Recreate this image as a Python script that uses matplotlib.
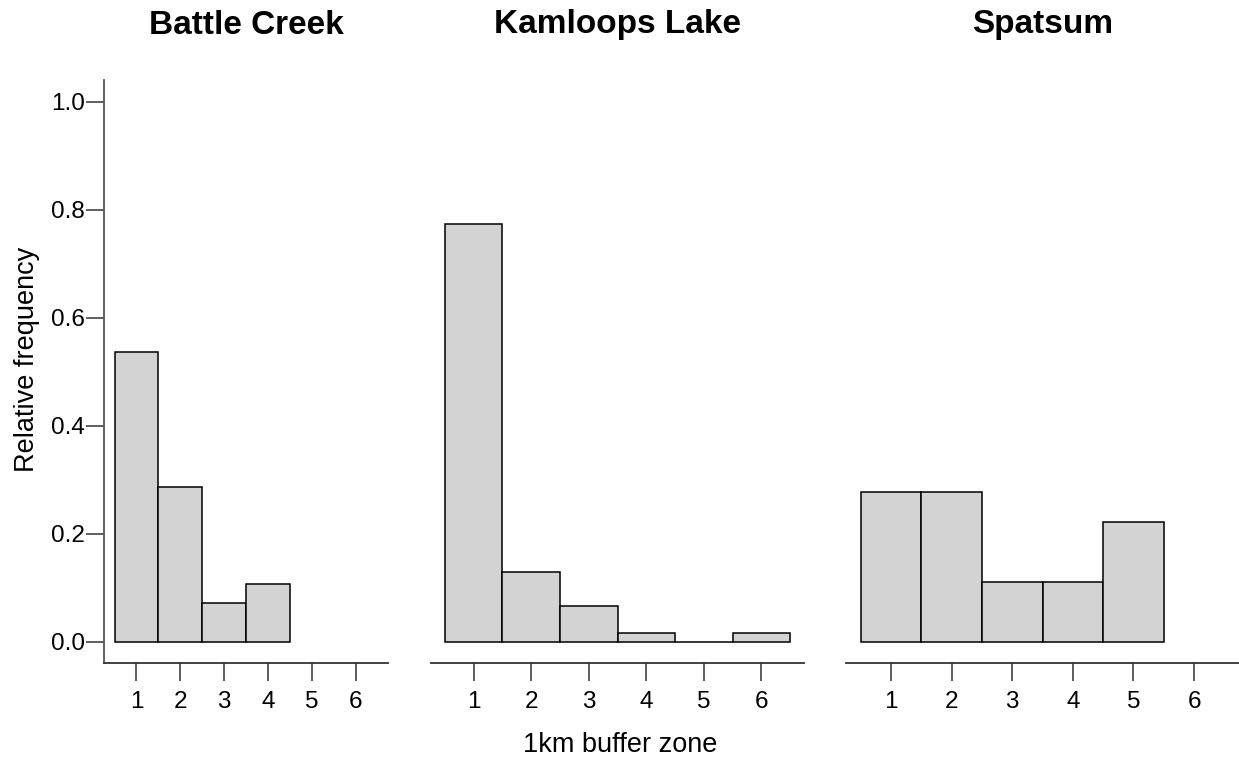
import matplotlib

matplotlib.use("Agg")
import matplotlib.pyplot as plt

plt.rcParams["font.family"] = ["Liberation Sans", "DejaVu Sans"]

sites = ["Battle Creek", "Kamloops Lake", "Spatsum"]
zones = [1, 2, 3, 4, 5, 6]
battle_creek = [0.536, 0.286, 0.071, 0.107]
kamloops_lake = [0.774, 0.129, 0.065, 0.016, 0.0, 0.016]
spatsum = [0.278, 0.278, 0.111, 0.111, 0.222]
y_ticks = [0.0, 0.2, 0.4, 0.6, 0.8, 1.0]

W, H = 1239, 769
fig = plt.figure(figsize=(W / 100, H / 100), dpi=100)

# panel extents in pixels (left, right); vertical extent shared
panels_px = [(104, 388), (431, 804), (846, 1239)]
top_px, bot_px = 80.4, 663.1

values = [battle_creek, kamloops_lake, spatsum]
for i, ((x0, x1), name, vals) in enumerate(zip(panels_px, sites, values)):
    ax = fig.add_axes([x0 / W, 1 - bot_px / H, (x1 - x0) / W, (bot_px - top_px) / H])
    ax.bar(zones[:len(vals)], vals, width=1.0, color="#d3d3d3",
           edgecolor="black", linewidth=1.1)
    ax.set_xlim(0.26, 6.74)
    ax.set_ylim(-0.04, 1.04)
    ax.set_xticks(zones)
    ax.tick_params(axis="x", length=13, width=1.1, pad=7, labelsize=17.5, color="#333333")
    for s in ["top", "right"]:
        ax.spines[s].set_visible(False)
    ax.spines["bottom"].set_linewidth(1.3)
    ax.spines["bottom"].set_color("#333333")
    if i == 0:
        ax.set_yticks(y_ticks)
        ax.set_yticklabels([f"{v:.1f}" for v in y_ticks])
        ax.tick_params(axis="y", length=13, width=1.1, pad=1, labelsize=17.5, color="#333333")
        ax.spines["left"].set_linewidth(1.3)
        ax.spines["left"].set_color("#555555")
    else:
        ax.spines["left"].set_visible(False)
        ax.set_yticks([])
    fig.text((x0 + x1) / 2 / W, 1 - 25 / H, name, ha="center", va="center",
             fontsize=24, fontweight="bold")

fig.text(27 / W, 1 - 359 / H, "Relative frequency", rotation=90,
         ha="center", va="center", fontsize=19.5)
fig.text(620 / W, 1 - 745 / H, "1km buffer zone", ha="center", va="center", fontsize=19.5)

fig.savefig("out.png", dpi=100)
